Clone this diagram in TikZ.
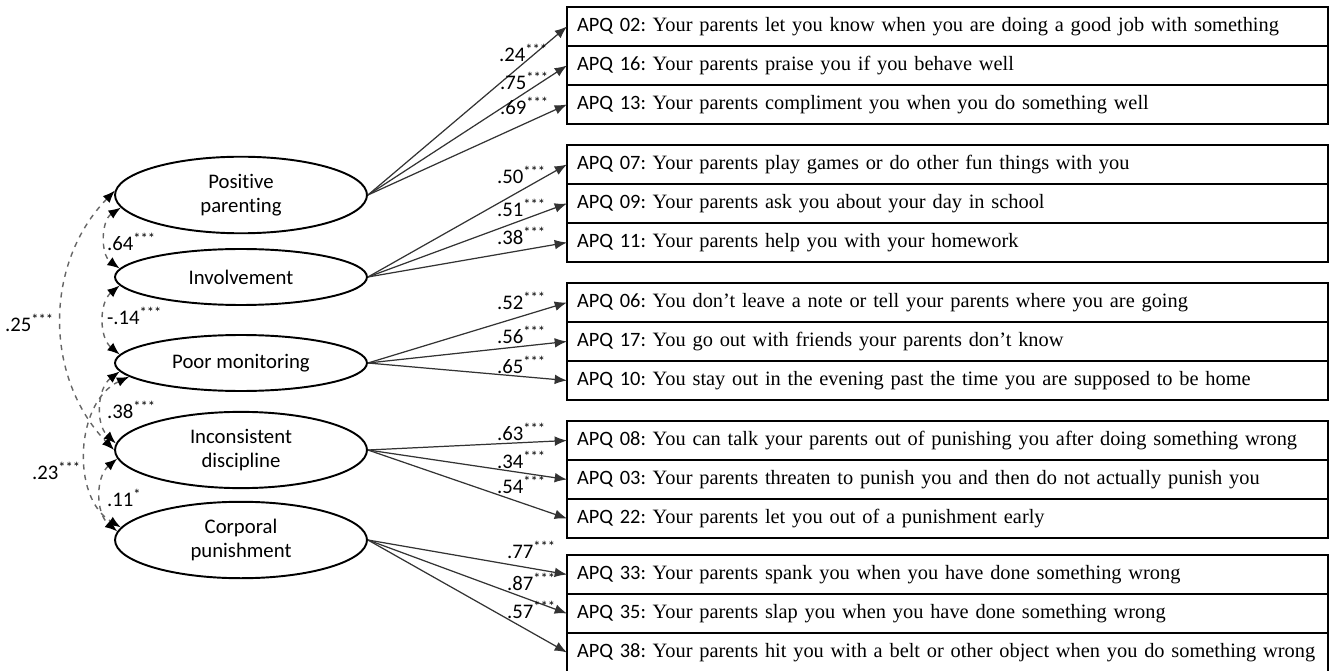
\documentclass[tikz,border=0pt]{standalone}
\usepackage{fontspec}
\setmainfont{Liberation Serif}
\newfontfamily\calibri[Ligatures=NoCommon]{Carlito}
\usetikzlibrary{shapes.geometric,positioning,arrows.meta}
\frenchspacing

\begin{document}
\begin{tikzpicture}[x=0.02cm,y=0.02cm,
    latent/.style={ellipse,draw,line width=1.1pt,minimum width=5.04cm,minimum height=1.12cm,
        align=center,font=\calibri\fontsize{11.8}{14}\selectfont},
    item/.style={draw,line width=1.1pt,minimum height=0.78cm,text width=14.82cm,inner xsep=0.2cm,
        inner ysep=0pt,outer sep=0pt,align=left,font=\fontsize{11.6}{14}\selectfont},
    load/.style={-{Latex[length=7pt,width=5.5pt]},draw=black!80,line width=0.7pt},
    corr/.style={{Latex[length=7pt,width=5.5pt,color=black]}-{Latex[length=7pt,width=5.5pt,color=black]},
        dashed,draw=black!60,line width=0.8pt},
    coef/.style={font=\calibri\fontsize{11.8}{13}\selectfont,inner sep=1pt}]
    \useasboundingbox (0,0) rectangle (1331,670);

    % latent factors
    \node[latent,minimum height=0.98cm] (pospar) at (241,475) {Positive\\parenting};
    \node[latent] (involve) at (241,393) {Involvement};
    \node[latent] (poormon) at (241,307) {Poor monitoring};
    \node[latent,minimum height=1.26cm] (incons) at (241,220) {Inconsistent\\discipline};
    \node[latent,minimum height=1.26cm] (corpun) at (241,130) {Corporal\\punishment};

    % items
    \node[item,anchor=north west] (apq02) at (567,663) {{\calibri APQ 02:} Your parents let you know when you are doing a good job with something};
    \node[item,below=0pt of apq02] (apq16) {{\calibri APQ 16:} Your parents praise you if you behave well};
    \node[item,below=0pt of apq16] (apq13) {{\calibri APQ 13:} Your parents compliment you when you do something well};

    \node[item,anchor=north west] (apq07) at (567,525) {{\calibri APQ 07:} Your parents play games or do other fun things with you};
    \node[item,below=0pt of apq07] (apq09) {{\calibri APQ 09:} Your parents ask you about your day in school};
    \node[item,below=0pt of apq09] (apq11) {{\calibri APQ 11:} Your parents help you with your homework};

    \node[item,anchor=north west] (apq06) at (567,387) {{\calibri APQ 06:} You don’t leave a note or tell your parents where you are going};
    \node[item,below=0pt of apq06] (apq17) {{\calibri APQ 17:} You go out with friends your parents don’t know};
    \node[item,below=0pt of apq17] (apq10) {{\calibri APQ 10:} You stay out in the evening past the time you are supposed to be home};

    \node[item,anchor=north west] (apq08) at (567,249) {{\calibri APQ 08:} You can talk your parents out of punishing you after doing something wrong};
    \node[item,below=0pt of apq08] (apq03) {{\calibri APQ 03:} Your parents threaten to punish you and then do not actually punish you};
    \node[item,below=0pt of apq03] (apq22) {{\calibri APQ 22:} Your parents let you out of a punishment early};

    \node[item,anchor=north west] (apq33) at (567,115) {{\calibri APQ 33:} Your parents spank you when you have done something wrong};
    \node[item,below=0pt of apq33] (apq35) {{\calibri APQ 35:} Your parents slap you when you have done something wrong};
    \node[item,below=0pt of apq35] (apq38) {{\calibri APQ 38:} Your parents hit you with a belt or other object when you do something wrong};

    % loadings
    \draw[load] (pospar.east) -- (apq02.west);
    \draw[load] (pospar.east) -- (apq16.west);
    \draw[load] (pospar.east) -- (apq13.west);
    \draw[load] (involve.east) -- (apq07.west);
    \draw[load] (involve.east) -- (apq09.west);
    \draw[load] (involve.east) -- (apq11.west);
    \draw[load] (poormon.east) -- (apq06.west);
    \draw[load] (poormon.east) -- (apq17.west);
    \draw[load] (poormon.east) -- (apq10.west);
    \draw[load] (incons.east) -- (apq08.west);
    \draw[load] (incons.east) -- (apq03.west);
    \draw[load] (incons.east) -- (apq22.west);
    \draw[load] (corpun.east) -- (apq33.west);
    \draw[load] (corpun.east) -- (apq35.west);
    \draw[load] (corpun.east) -- (apq38.west);

    \node[coef,anchor=east] (l02) at (550,617) {.24\textsuperscript{***}};
    \node[coef,anchor=east] (l16) at (551,589) {.75\textsuperscript{***}};
    \node[coef,anchor=east] (l13) at (551,564) {.69\textsuperscript{***}};
    \node[coef,anchor=east] (l07) at (548,495) {.50\textsuperscript{***}};
    \node[coef,anchor=east] (l09) at (548,462) {.51\textsuperscript{***}};
    \node[coef,anchor=east] (l11) at (548,434) {.38\textsuperscript{***}};
    \node[coef,anchor=east] (l06) at (548,369) {.52\textsuperscript{***}};
    \node[coef,anchor=east] (l17) at (548,335) {.56\textsuperscript{***}};
    \node[coef,anchor=east] (l10) at (548,305) {.65\textsuperscript{***}};
    \node[coef,anchor=east] (l08) at (548,238) {.63\textsuperscript{***}};
    \node[coef,anchor=east] (l03) at (548,210) {.34\textsuperscript{***}};
    \node[coef,anchor=east] (l22) at (548,185) {.54\textsuperscript{***}};
    \node[coef,anchor=east] (l33) at (558,120) {.77\textsuperscript{***}};
    \node[coef,anchor=east] (l35) at (558,88) {.87\textsuperscript{***}};
    \node[coef,anchor=east] (l38) at (558,60) {.57\textsuperscript{***}};

    % correlations
    \draw[corr] (pospar.186) to[bend right=55] (involve.176);
    \draw[corr] (involve.184) to[bend right=50] (poormon.176);
    \draw[corr] (poormon.184) to[bend right=50] (incons.177);
    \draw[corr] (incons.184) to[bend right=50] (corpun.176);
    \draw[corr] (pospar.178) to[bend right=44] (incons.180);
    \draw[corr] (poormon.187) to[bend right=62] (corpun.174);

    \node[coef,anchor=west] (r64) at (105,428) {.64\textsuperscript{***}};
    \node[coef,anchor=west] (r14) at (105,354) {-.14\textsuperscript{***}};
    \node[coef,anchor=west] (r25) at (3,347) {.25\textsuperscript{***}};
    \node[coef,anchor=west] (r38) at (105,260) {.38\textsuperscript{***}};
    \node[coef,anchor=west] (r23) at (30,199) {.23\textsuperscript{***}};
    \node[coef,anchor=west] (r11) at (105,172) {.11\textsuperscript{*}};
\end{tikzpicture}
\end{document}
